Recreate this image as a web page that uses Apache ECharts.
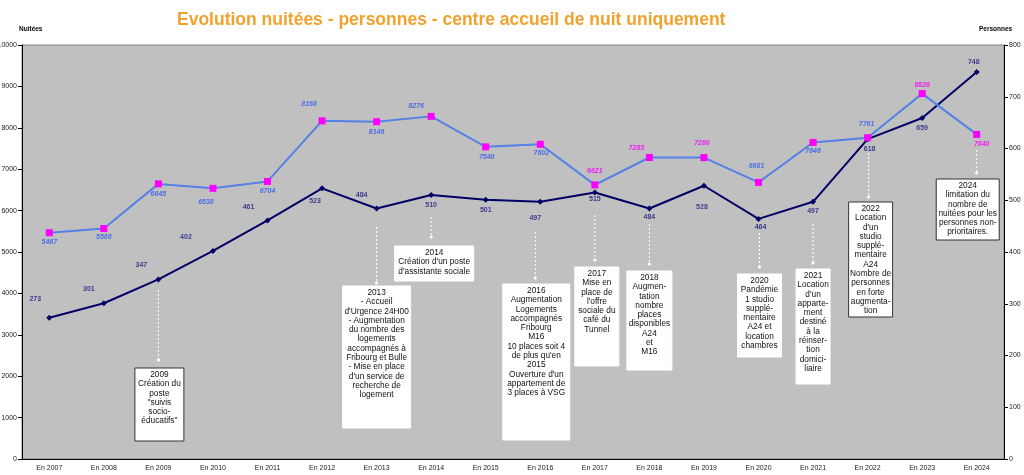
<!DOCTYPE html>
<html>
<head>
<meta charset="utf-8">
<script src="https://cdn.jsdelivr.net/npm/echarts@6/dist/echarts.min.js"></script>
<style>
  html, body { margin: 0; padding: 0; background: #fff; }
  #chart { width: 1024px; height: 475px; }
</style>
</head>
<body>
<div id="chart"></div>
<script>
// données
const years = ['En 2007', 'En 2008', 'En 2009', 'En 2010', 'En 2011', 'En 2012', 'En 2013', 'En 2014', 'En 2015',
  'En 2016', 'En 2017', 'En 2018', 'En 2019', 'En 2020', 'En 2021', 'En 2022', 'En 2023', 'En 2024']
const nuitees = [5467, 5568, 6645, 6538, 6704, 8168, 8146, 8276, 7540, 7602, 6621, 7283, 7280, 6681, 7646, 7761, 8826, 7840]
const personnes = [273, 301, 347, 402, 461, 523, 484, 510, 501, 497, 515, 484, 528, 464, 497, 618, 659, 748]
const leftTicks = [0, 10000, 1000]
const rightTicks = [0, 800, 100]

// étiquettes en magenta (index)
const magentaLabels = [10, 11, 12, 16, 17]

// décalage des étiquettes [dx, dy]
const nuiteesLabelOffset = [[0, 9], [0, 9], [0, 10], [-7, 14], [0, 10], [-13, -17], [0, 10], [-15, -10], [1, 10],
  [1, 9], [0, -14], [-13, -9], [-2, -15], [-2, -16], [0, 9], [-1, -14], [0, -9], [5, 10]]
const personnesLabelOffset = [[-14, -19], [-15, -14], [-17, -14], [-27, -14], [-19, -13], [-7, 13], [-15, -13], [0, 10],
  [0, 10], [-5, 16], [0, 7], [0, 9], [-2, 21], [2, 8], [0, 9], [2, 10], [0, 10], [-3, -10]]

// commentaires
const notes = [
  { year: 'En 2009', lines: ['2009', 'Création du', 'poste', '"suivis', 'socio-', 'éducatifs"'],
    dx: 1, w: 49, top: 368, bottom: 441, ax: 0, from: 290, to: 360, border: true },
  { year: 'En 2013', lines: ['2013', '- Accueil', "d'Urgence 24H00", '- Augmentation', 'du nombre des', 'logements',
    'accompagnés à', 'Fribourg et Bulle', '- Mise en place', "d'un service de", 'recherche de', 'logement'],
    dx: 0, w: 68, top: 286, bottom: 428, ax: 0, from: 227, to: 283 },
  { year: 'En 2014', lines: ['2014', "Création d'un poste", "d'assistante sociale"],
    dx: 3, w: 79, top: 246, bottom: 281, ax: 0, from: 217, to: 237 },
  { year: 'En 2016', lines: ['2016', 'Augmentation', 'Logements', 'accompagnés', 'Fribourg', 'M16', '10 places soit 4',
    "de plus qu'en", '2015', "Ouverture d'un", 'appartement de', '3 places à VSG'],
    dx: -4, w: 67, top: 284, bottom: 440, ax: -5, from: 232, to: 278 },
  { year: 'En 2017', lines: ['2017', 'Mise en', 'place de', "l'offre", 'sociale du', 'café du', 'Tunnel'],
    dx: 2, w: 44, top: 267, bottom: 366, ax: 0, from: 215, to: 260 },
  { year: 'En 2018', lines: ['2018', 'Augmen-', 'tation', 'nombre', 'places', 'disponibles', 'A24', 'et', 'M16'],
    dx: 0, w: 45, top: 271, bottom: 370, ax: 0, from: 224, to: 264 },
  { year: 'En 2020', lines: ['2020', 'Pandémie', '1 studio', 'supplé-', 'mentaire', 'A24 et', 'location', 'chambres'],
    dx: 1, w: 44, top: 274, bottom: 357, ax: 1, from: 233, to: 267 },
  { year: 'En 2021', lines: ['2021', 'Location', "d'un", 'apparte-', 'ment', 'destiné', 'à la', 'réinser-', 'tion',
    'domici-', 'liaire'],
    dx: 0, w: 34, top: 269, bottom: 384, ax: 0, from: 224, to: 263 },
  { year: 'En 2022', lines: ['2022', 'Location', "d'un", 'studio', 'supplé-', 'mentaire', 'A24', 'Nombre de',
    'personnes', 'en forte', 'augmenta-', 'tion'],
    dx: 3, w: 44, top: 202, bottom: 317, ax: 1, from: 153, to: 197, border: true },
  { year: 'En 2024', lines: ['2024', 'limitation du', 'nombre de', 'nuitées pour les', 'personnes non-', 'prioritaires.'],
    dx: -9, w: 63, top: 179, bottom: 240, ax: 0, from: 150, to: 173, border: true }
]

const chart = echarts.init(document.getElementById('chart'))
const font = 'Liberation Sans, Arial, sans-serif'

const axisStyle = {
  axisLine: { show: true, lineStyle: { color: '#000', width: 1 } },
  axisTick: { show: true, length: 4, lineStyle: { color: '#000' } },
  axisLabel: { fontSize: 7, color: '#222', margin: 5, formatter: v => String(v) },
  splitLine: { show: false }
}

chart.setOption({
  animation: false,
  textStyle: { fontFamily: font },
  title: {
    text: 'Evolution nuitées - personnes - centre accueil de nuit uniquement',
    left: 172,
    top: 6,
    textStyle: { color: '#f0a22e', fontSize: 17.5, fontWeight: 'bold', fontFamily: font }
  },
  grid: {
    left: 22, right: 20, top: 45, bottom: 16,
    outerBoundsMode: 'none',
    containLabel: false,
    show: true, backgroundColor: '#c0c0c0', borderColor: '#808080', borderWidth: 1
  },
  xAxis: {
    type: 'category',
    data: years,
    boundaryGap: true,
    axisLine: { lineStyle: { color: '#000' } },
    axisTick: { length: 3, lineStyle: { color: '#000' } },
    axisLabel: { fontSize: 7, color: '#222', margin: 6, interval: 0 }
  },
  yAxis: [
    Object.assign({ type: 'value', min: leftTicks[0], max: leftTicks[1], interval: leftTicks[2] }, axisStyle),
    Object.assign({ type: 'value', min: rightTicks[0], max: rightTicks[1], interval: rightTicks[2], position: 'right' }, axisStyle)
  ],
  series: [
    {
      name: 'Nuitées',
      type: 'line',
      data: nuitees.map((v, i) => ({
        value: v,
        label: {
          offset: nuiteesLabelOffset[i],
          color: magentaLabels.includes(i) ? '#f020f0' : '#4a6ee6'
        }
      })),
      symbol: 'rect',
      symbolSize: 7,
      itemStyle: { color: '#ff00ff' },
      lineStyle: { color: '#5581e6', width: 2 },
      label: { show: true, position: 'inside', fontSize: 7, fontStyle: 'italic', fontWeight: 'bold' },
      z: 3
    },
    {
      name: 'Personnes',
      type: 'line',
      yAxisIndex: 1,
      data: personnes.map((v, i) => ({ value: v, label: { offset: personnesLabelOffset[i] } })),
      symbol: 'diamond',
      symbolSize: 6,
      itemStyle: { color: '#000066' },
      lineStyle: { color: '#000066', width: 2 },
      label: { show: true, position: 'inside', fontSize: 7, fontWeight: 'bold', color: '#3c3c8c' },
      z: 2
    }
  ]
})

// textes des axes et commentaires
const graphics = [
  { type: 'text', left: 19, top: 26, style: { text: 'Nuitées', font: 'bold 6.5px ' + font, fill: '#000' } },
  { type: 'text', left: 979, top: 26, style: { text: 'Personnes', font: 'bold 6.5px ' + font, fill: '#000' } }
]
notes.forEach(n => {
  const cx = chart.convertToPixel({ xAxisIndex: 0 }, n.year)
  const bx = cx + n.dx
  graphics.push({
    type: 'line',
    shape: { x1: cx + n.ax, y1: n.from, x2: cx + n.ax, y2: n.to },
    style: { stroke: '#ffffff', lineWidth: 1, lineDash: [2, 2] },
    z: 10
  })
  graphics.push({
    type: 'circle',
    shape: { cx: cx + n.ax, cy: n.to, r: 1.6 },
    style: { fill: '#ffffff' },
    z: 10
  })
  graphics.push({
    type: 'rect',
    shape: { x: bx - n.w / 2, y: n.top, width: n.w, height: n.bottom - n.top },
    style: { fill: '#ffffff', stroke: n.border ? '#333' : '#fff', lineWidth: 1 },
    z: 10
  })
  graphics.push({
    type: 'text',
    z: 11,
    style: {
      text: n.lines.join('\n'),
      x: bx,
      y: n.top + 2,
      align: 'center',
      verticalAlign: 'top',
      font: '8.3px ' + font,
      lineHeight: 9.3,
      fill: '#111'
    }
  })
})
chart.setOption({ graphic: graphics })
</script>
</body>
</html>
